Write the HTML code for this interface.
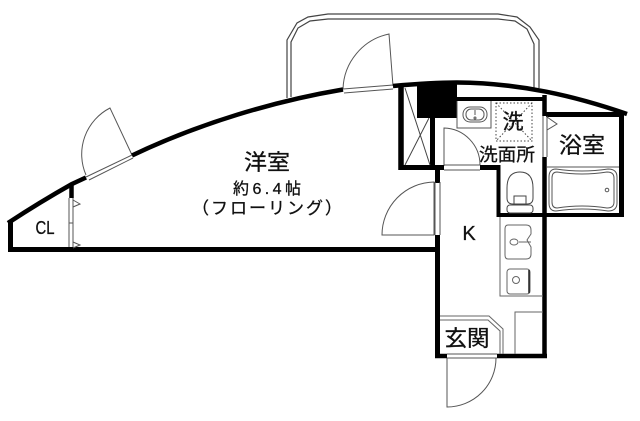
<!DOCTYPE html>
<html><head><meta charset="utf-8"><style>
html,body{margin:0;padding:0;background:#fff}
svg{display:block}
text{fill:#111;stroke:#111;stroke-width:.3;font-family:"Liberation Sans","Noto Sans CJK JP",sans-serif}
</style></head><body>
<svg width="640" height="421" viewBox="0 0 640 421" xmlns="http://www.w3.org/2000/svg">
<rect width="640" height="421" fill="#fff"/>
<!-- balcony -->
<g fill="none" stroke="#444" stroke-width="1.2">
<path d="M287 98V40L297 23 308 17 328 14H498L517 17 530 27 539 40V88"/>
<path d="M291 97V42L298 28 310 21 328 19H498L515 21 527 29 534 44V88"/>
</g>
<!-- thin door leaves -->
<g fill="none" stroke="#555" stroke-width="1">
<path d="M393 86L389 34A58 58 0 0 0 343 89"/>
<path d="M132 155L110 108A52 52 0 0 0 86 175"/>
<path d="M434 182V235H382A53 53 0 0 1 434 182Z"/>
<path d="M444 166V128A37 37 0 0 1 480 165"/>
<path d="M447 358V407A49 49 0 0 0 496 358"/>
</g>
<!-- main walls -->
<g fill="none" stroke="#000" stroke-linecap="butt" stroke-linejoin="miter">
<path d="M10.500 221V249" stroke-width="5"/>
<path d="M8 249.500H436" stroke-width="5"/>
<path d="M8 223Q40 202 72 184L86 177.500" stroke-width="4.500"/>
<path d="M132 155.500C200 123 275 101 343 89.500" stroke-width="4.500"/>
<path d="M393 86C415 84 435 82.500 457 82.500C520 83 575 96 627 114" stroke-width="4.500"/>
<path d="M401 86V170" stroke-width="5.500"/>
<path d="M399 167.500H444" stroke-width="5"/>
<path d="M480 167.500H500" stroke-width="5"/>
<path d="M498.500 165V217" stroke-width="4"/>
<path d="M432.500 118V168" stroke-width="5"/>
<path d="M457 99H545" stroke-width="4"/>
<path d="M544.500 95V116" stroke-width="4.500"/>
<path d="M544.500 157V358" stroke-width="4.500"/>
<path d="M546 114.500H624" stroke-width="5"/>
<path d="M621.500 112V217" stroke-width="5"/>
<path d="M497 215H624" stroke-width="4"/>
<path d="M437.500 168V183" stroke-width="5"/>
<path d="M437.500 235V358" stroke-width="5"/>
<path d="M435 356H447" stroke-width="4.500"/>
<path d="M497 356H547" stroke-width="4.500"/>
<path d="M71.500 183V198" stroke-width="4.500"/>
</g>
<rect x="417" y="84" width="40" height="34" fill="#000"/>
<!-- sills -->
<g fill="none" stroke="#555" stroke-width="1">
<path d="M86 177L132 155M89 180L133 158"/>
<path d="M343 89L393 85M344 93L393 89"/>
<path d="M435 182V235M440 182V235"/>
<path d="M444 165H480M444 170H480"/>
<path d="M447 354H497M447 358H497"/>
<path d="M543 116V157M547 116V157"/>
<path d="M69 198V247M73 198V247M69 223H73"/>
<path d="M73 200L80 204 73 207M73 242L80 245 73 248"/>
<path d="M547 117L557 124 547 130Z" />
</g>
<!-- closet cross -->
<g fill="none" stroke="#444" stroke-width="1">
<path d="M405 88L430 165M405 165L429 118"/>
</g>
<!-- wash basin -->
<g fill="none" stroke="#555" stroke-width="1">
<path d="M457 101V128H491V101"/>
<rect x="463" y="107" width="24" height="15" rx="7"/>
<rect x="466" y="109" width="18" height="11" rx="5"/>
<path d="M475 110V115"/>
<circle cx="475" cy="118" r="1"/>
</g>
<g fill="none" stroke="#444" stroke-width="1" stroke-dasharray="1.500 2">
<rect x="496" y="103" width="36" height="38"/>
<path d="M496 103L532 141M532 103L496 141"/>
</g>
<!-- toilet -->
<g fill="none" stroke="#444" stroke-width="1">
<path d="M507 198V188Q507 172 520 172T533 188V198Q533 204 527 204H513Q507 204 507 198Z"/>
<path d="M514 204V196H526V204"/>
<rect x="507" y="205" width="26" height="8" rx="3"/>
</g>
<!-- bath -->
<g fill="none" stroke="#555" stroke-width="1">
<path d="M547 167H619"/>
<path d="M556 169Q582 173 608 169Q617 169 617 177V203Q617 211 608 211Q582 207 556 211Q549 211 549 203V177Q549 169 556 169Z"/>
<path d="M557 172Q582 176 607 172Q614 172 614 178V202Q614 208 607 208Q582 204 557 208Q552 208 552 202V178Q552 172 557 172Z"/>
<circle cx="607" cy="190" r="1.800"/>
</g>
<!-- kitchen -->
<g fill="none" stroke="#666" stroke-width="1">
<path d="M500 217V296H543"/>
<path d="M508 225H526Q531 225 531 230V234L527 240 531 247V254Q531 259 526 259H508Q505 259 505 255V229Q505 225 508 225Z"/>
<ellipse cx="514" cy="242" rx="4" ry="3"/>
<path d="M519 242H531"/>
<rect x="507" y="269" width="23" height="25" rx="3"/>
<circle cx="516" cy="280" r="3.500"/>
<path d="M515 354V312H543"/>
<path d="M440 316H489L503 329V354"/>
<path d="M440 320H488L500 331V354"/>
</g>
<path d="M529 270V293" stroke="#222" stroke-width="1.500" fill="none"/>
<!-- labels -->
<text x="267" y="170" font-size="22" text-anchor="middle" textLength="46" lengthAdjust="spacingAndGlyphs">洋室</text>
<text x="267" y="194" font-size="16" text-anchor="middle" textLength="68" lengthAdjust="spacing">約6.4帖</text>
<text x="267" y="214" font-size="17" text-anchor="middle" textLength="150" lengthAdjust="spacing">（フローリング）</text>
<text x="45" y="234" font-size="18" text-anchor="middle" textLength="19" lengthAdjust="spacingAndGlyphs">CL</text>
<text x="513" y="129" font-size="21" text-anchor="middle">洗</text>
<text x="507" y="161" font-size="18" text-anchor="middle" textLength="56" lengthAdjust="spacingAndGlyphs">洗面所</text>
<text x="582" y="153" font-size="22" text-anchor="middle" textLength="46" lengthAdjust="spacingAndGlyphs">浴室</text>
<text x="469" y="240" font-size="20" text-anchor="middle">K</text>
<text x="467" y="346" font-size="22" text-anchor="middle" textLength="45" lengthAdjust="spacingAndGlyphs">玄関</text>
</svg>
</body></html>
